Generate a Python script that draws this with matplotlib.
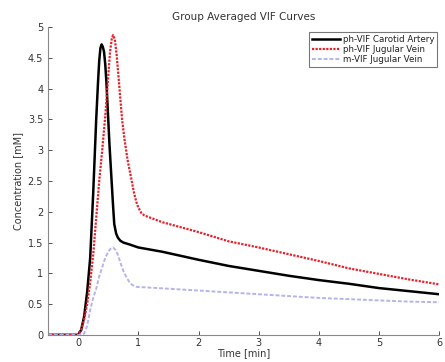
import matplotlib
matplotlib.use("Agg")
import matplotlib.pyplot as plt

# Black: ph-VIF Carotid Artery
t_ca = [-0.5, 0.0, 0.05, 0.10, 0.15, 0.20, 0.25, 0.30, 0.33, 0.35, 0.37, 0.39, 0.41,
        0.43, 0.45, 0.47, 0.50, 0.52, 0.55, 0.58, 0.60, 0.63, 0.66, 0.70, 0.75, 0.85,
        1.0, 1.4, 2.0, 2.5, 3.0, 3.5, 4.0, 4.5, 5.0, 5.5, 6.0]
c_ca = [0.0, 0.0, 0.08, 0.30, 0.70, 1.25, 2.30, 3.50, 4.10, 4.45, 4.66, 4.72, 4.68,
        4.60, 4.40, 4.10, 3.50, 3.10, 2.60, 2.10, 1.80, 1.65, 1.58, 1.53, 1.50, 1.47,
        1.42, 1.35, 1.22, 1.12, 1.04, 0.96, 0.89, 0.83, 0.76, 0.71, 0.66]

# Red: ph-VIF Jugular Vein
t_jv = [-0.5, 0.0, 0.05, 0.10, 0.15, 0.20, 0.25, 0.30, 0.35, 0.40, 0.45, 0.50, 0.53,
        0.56, 0.58, 0.61, 0.64, 0.67, 0.70, 0.73, 0.77, 0.82, 0.88, 0.93, 0.97, 1.0,
        1.05, 1.10, 1.4, 2.0, 2.5, 3.0, 3.5, 4.0, 4.5, 5.0, 5.5, 6.0]
c_jv = [0.0, 0.0, 0.08, 0.25, 0.50, 0.85, 1.30, 1.90, 2.50, 3.00, 3.55, 4.20, 4.60,
        4.82, 4.87, 4.80, 4.55, 4.20, 3.85, 3.50, 3.18, 2.85, 2.55, 2.30, 2.15, 2.07,
        1.98, 1.94, 1.83, 1.67, 1.52, 1.42, 1.31, 1.20, 1.08, 0.99, 0.90, 0.82]

# Blue: m-VIF Jugular Vein
t_m = [-0.5, 0.0, 0.10, 0.15, 0.20, 0.25, 0.30, 0.35, 0.40, 0.45, 0.50, 0.54, 0.58,
       0.62, 0.66, 0.70, 0.75, 0.80, 0.85, 0.90, 0.97, 1.5, 2.0, 2.5, 3.0, 3.5, 4.0,
       4.5, 5.0, 5.5, 6.0]
c_m = [0.0, 0.0, 0.02, 0.15, 0.40, 0.60, 0.75, 0.95, 1.10, 1.25, 1.35, 1.40, 1.42,
       1.38, 1.30, 1.18, 1.04, 0.94, 0.86, 0.81, 0.78, 0.75, 0.72, 0.69, 0.66, 0.63,
       0.60, 0.58, 0.56, 0.54, 0.53]

labels = ["ph-VIF Carotid Artery", "ph-VIF Jugular Vein", "m-VIF Jugular Vein"]
x_ticks = [0, 1, 2, 3, 4, 5, 6]
y_ticks = [0, 0.5, 1, 1.5, 2, 2.5, 3, 3.5, 4, 4.5, 5]
y_tick_labels = ["0", "0.5", "1", "1.5", "2", "2.5", "3", "3.5", "4", "4.5", "5"]

txt = "#333333"
fig = plt.figure(figsize=(4.45, 3.62), dpi=100)
ax = fig.add_axes([0.108, 0.075, 0.879, 0.850])

ax.plot(t_ca, c_ca, color="black", lw=1.8, ls="-", label=labels[0])
ax.plot(t_jv, c_jv, color="#e8202a", lw=1.6, ls=(0, (1, 0.6)), label=labels[1])
ax.plot(t_m, c_m, color="#b4b4ec", lw=1.4, ls=(0, (2, 1)), label=labels[2])

ax.set_xlim(-0.5, 6)
ax.set_ylim(0, 5)
ax.set_xticks(x_ticks)
ax.set_yticks(y_ticks)
ax.set_yticklabels(y_tick_labels)
ax.tick_params(direction="in", length=3, labelsize=7, colors=txt, width=0.6)
ax.tick_params(axis="x", pad=2)
for s in ["top", "right"]:
    ax.spines[s].set_visible(False)
for s in ["left", "bottom"]:
    ax.spines[s].set_color("#888888")
    ax.spines[s].set_linewidth(0.8)

ax.set_title("Group Averaged VIF Curves", fontsize=7.5, color=txt, pad=5)
ax.set_xlabel("Time [min]", fontsize=7, color=txt, labelpad=0)
ax.set_ylabel("Concentration [mM]", fontsize=7, color=txt, labelpad=3)

leg = ax.legend(loc="upper right", bbox_to_anchor=(1.0, 0.99), fontsize=6.3,
                frameon=True, fancybox=False, handlelength=3.2, handletextpad=0.4,
                borderpad=0.3, labelspacing=0.15, borderaxespad=0.2)
leg.get_frame().set_edgecolor("#555555")
leg.get_frame().set_linewidth(0.8)
for t in leg.get_texts():
    t.set_color("#222222")

fig.savefig("out.png", dpi=100)
